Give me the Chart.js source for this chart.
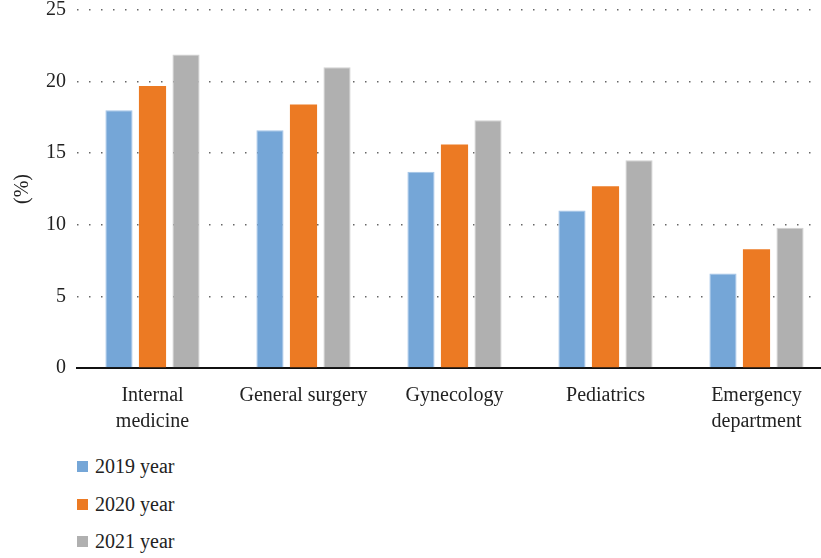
<!DOCTYPE html>
<html>
<head>
<meta charset="utf-8">
<script src="https://cdn.jsdelivr.net/npm/chart.js@4.4.1/dist/chart.umd.min.js"></script>
<style>
  html, body { margin: 0; padding: 0; background: #fff; overflow: hidden; width: 821px; height: 558px; }
  #wrap { position: relative; width: 821px; height: 558px; overflow: hidden; }
  canvas { position: absolute; left: 0; top: 0; }
  #legend { position: absolute; left: 77px; top: 448px; font-family: "Liberation Serif", "DejaVu Serif", serif; font-size: 20px; color: #222; }
  .item { display: flex; align-items: center; height: 37.5px; }
  .box { width: 11px; height: 11px; margin-right: 7px; }
</style>
</head>
<body>
<div id="wrap">
  <canvas id="c" width="832" height="445"></canvas>
  <div id="legend"></div>
</div>
<script>
// Departments on the category axis (multi-line labels as arrays)
const departments = [
  ['Internal', 'medicine'],
  'General surgery',
  'Gynecology',
  'Pediatrics',
  ['Emergency', 'department']
];

// Share per department and year (%)
const year2019 = [18.0, 16.6, 13.7, 11.0, 6.6];
const year2020 = [19.7, 18.4, 15.6, 12.7, 8.3];
const year2021 = [21.9, 21.0, 17.3, 14.5, 9.8];

const seriesNames = ['2019 year', '2020 year', '2021 year'];
const yTicks = [0, 5, 10, 15, 20, 25];

const fills = ['#75A6D7', '#EC7A23', '#B0B0B0'];
const edges = ['#A3C4E8', '#EC7A23', '#D2D2D2'];

const serif = '"Liberation Serif", "DejaVu Serif", serif';

const datasets = [year2019, year2020, year2021].map((vals, i) => ({
  label: seriesNames[i],
  data: vals,
  backgroundColor: fills[i],
  borderColor: edges[i],
  borderWidth: i === 1 ? 0 : 1,
  categoryPercentage: 0.666,
  barPercentage: 0.81
}));

const chart = new Chart(document.getElementById('c'), {
  type: 'bar',
  data: { labels: departments, datasets },
  options: {
    responsive: false,
    animation: false,
    layout: { padding: { top: 10, right: 0, left: 0, bottom: 0 } },
    plugins: { legend: { display: false }, tooltip: { enabled: false } },
    scales: {
      x: {
        grid: { display: false, drawTicks: false },
        border: { display: true, color: '#111', width: 2 },
        ticks: {
          color: '#222',
          padding: 15,
          maxRotation: 0,
          autoSkip: false,
          font: { family: serif, size: 20, lineHeight: 1.3 }
        },
        afterFit(scale) { scale.height = 77; }
      },
      y: {
        min: 0,
        max: 25,
        afterBuildTicks(scale) { scale.ticks = yTicks.map(v => ({ value: v })); },
        grid: {
          color: '#666',
          lineWidth: 1.5,
          drawTicks: false
        },
        border: { display: false, dash: [1.5, 10.5] },
        ticks: {
          color: '#222',
          padding: 11,
          font: { family: serif, size: 20 }
        },
        title: {
          display: true,
          text: '(%)',
          color: '#222',
          padding: { top: 11, bottom: 0 },
          font: { family: serif, size: 20 }
        },
        afterFit(scale) {
          scale.width = 77;
          scale.paddingTop = 0;
          scale.paddingBottom = 0;
        }
      }
    }
  }
});

// Vertical legend built from the chart's datasets
const legend = document.getElementById('legend');
chart.data.datasets.forEach(ds => {
  const row = document.createElement('div');
  row.className = 'item';
  const box = document.createElement('span');
  box.className = 'box';
  box.style.background = ds.backgroundColor;
  const txt = document.createElement('span');
  txt.textContent = ds.label;
  row.appendChild(box);
  row.appendChild(txt);
  legend.appendChild(row);
});
</script>
</body>
</html>
